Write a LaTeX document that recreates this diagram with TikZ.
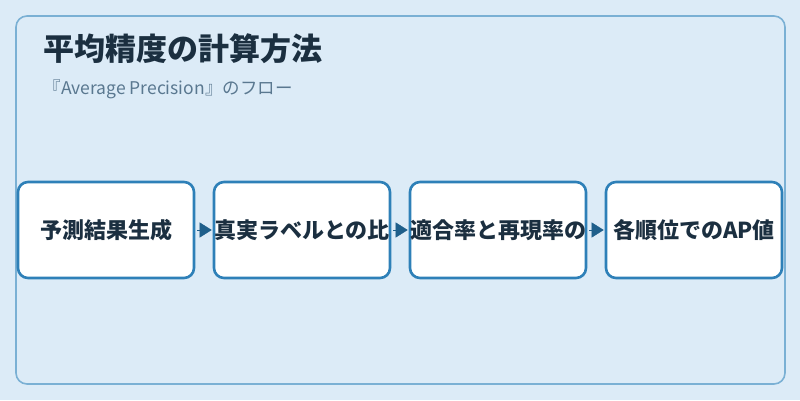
\documentclass[tikz,border=0pt]{standalone}
\usepackage{fontspec}
\setmainfont{Noto Sans CJK JP}
\usetikzlibrary{positioning,arrows.meta}
\definecolor{bgblue}{HTML}{DCEBF7}
\definecolor{framblue}{HTML}{7AB0D4}
\definecolor{boxblue}{HTML}{2E80B8}
\definecolor{arrblue}{HTML}{1F5F8B}
\definecolor{inkdark}{HTML}{1B2F40}
\definecolor{subgray}{HTML}{5A7890}
\tikzset{
  stepbox/.style={draw=boxblue, line width=2.6pt, fill=white, rounded corners=10pt,
    minimum width=176pt, minimum height=96pt, inner sep=0pt, text=inkdark,
    font=\fontsize{22}{26}\selectfont\bfseries},
  flowarrow/.style={draw=arrblue, line width=0.4pt, -{Triangle[length=12pt,width=15pt]}, shorten <=2pt, shorten >=1pt}
}
\begin{document}
\begin{tikzpicture}[x=1pt,y=1pt]
\useasboundingbox[fill=bgblue] (0,0) rectangle (800,400);
\draw [framblue, line width=1.6pt, rounded corners=11pt] (16,16) rectangle (785,384);
\node [anchor=base west, text=inkdark, font=\fontsize{31}{36}\selectfont\bfseries] (title) at (40,340) {平均精度の計算方法};
\node [anchor=base west, text=subgray, font=\fontsize{17.5}{21}\selectfont] (subtitle) at (40,306) {『Average Precision』のフロー};
\node [stepbox] (s1) at (106,170) {予測結果生成};
\node [stepbox] (s2) at (302,170) {真実ラベルとの比};
\node [stepbox] (s3) at (498,170) {適合率と再現率の};
\node [stepbox] (s4) at (694,170) {各順位でのAP値};
\draw [flowarrow] (s1) -- (s2);
\draw [flowarrow] (s2) -- (s3);
\draw [flowarrow] (s3) -- (s4);
\end{tikzpicture}
\end{document}
